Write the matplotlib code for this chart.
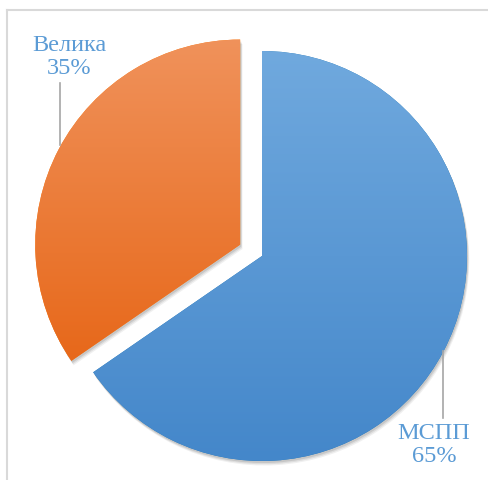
import numpy as np
import matplotlib.pyplot as plt
from matplotlib.colors import LinearSegmentedColormap
from matplotlib.patches import Wedge
from matplotlib.lines import Line2D

labels = ['МСПП', 'Велика']
shares = [65.4, 34.6]
explode = [0, 0.12]
tops = ['#70A9DE', '#F0925B']
bottoms = ['#4487CA', '#E7681A']
label_color = '#5B9BD5'

W, H = 488, 480
cx, cy, R = 262, 256, 205   # pie centre and radius in pixels


def px(x, y):
    return (x - cx) / R, (cy - y) / R


fig = plt.figure(figsize=(W / 100, H / 100), dpi=100)
ax = fig.add_axes([0, 0, 1, 1])

wedges, _ = ax.pie(shares, explode=explode, startangle=90, counterclock=False,
                   radius=1, wedgeprops=dict(linewidth=0))
ax.axis('off')

# soft drop shadow + vertical gradient fill
for w, c0, c1 in zip(wedges, tops, bottoms):
    for k, a in [(0.022, 0.06), (0.016, 0.08), (0.010, 0.10)]:
        s = Wedge((w.center[0] + k * 0.5, w.center[1] - k), w.r, w.theta1, w.theta2,
                  facecolor='black', alpha=a, linewidth=0, zorder=0.5)
        ax.add_patch(s)
    w.set_zorder(1)
    ext = w.get_path().get_extents()
    cmap = LinearSegmentedColormap.from_list('g', [c1, c0])
    grad = np.linspace(0, 1, 256).reshape(-1, 1)
    im = ax.imshow(grad, cmap=cmap, origin='lower', aspect='auto',
                   extent=[ext.x0, ext.x1, ext.y0, ext.y1], zorder=1.5)
    im.set_clip_path(w)
ax.set_xlim(-cx / R, (W - cx) / R)
ax.set_ylim(-(H - cy) / R, cy / R)

# leader lines
for (x0, y0), (x1, y1) in [((60, 83), (60, 145)), ((443, 351), (443, 418))]:
    a, b = px(x0, y0)
    c, d = px(x1, y1)
    ax.plot([a, c], [b, d], color='#A6A6A6', lw=1.2, zorder=3)

# data labels
for lab, val, (x, y) in zip(labels, shares, [(434, 445), (69, 57)]):
    tx, ty = px(x, y)
    ax.text(tx, ty, f'{lab}\n{round(val)}%', ha='center', va='center', color=label_color,
            fontsize=17.5, family='Liberation Serif', linespacing=1.08, zorder=4)

# chart-area border (cropped at right and bottom)
fig.add_artist(Line2D([7 / W, 7 / W], [0, 1 - 10 / H], color='#D9D9D9', lw=1.5))
fig.add_artist(Line2D([7 / W, 1], [1 - 10 / H, 1 - 10 / H], color='#D9D9D9', lw=1.5))

fig.savefig('out.png', dpi=100)
